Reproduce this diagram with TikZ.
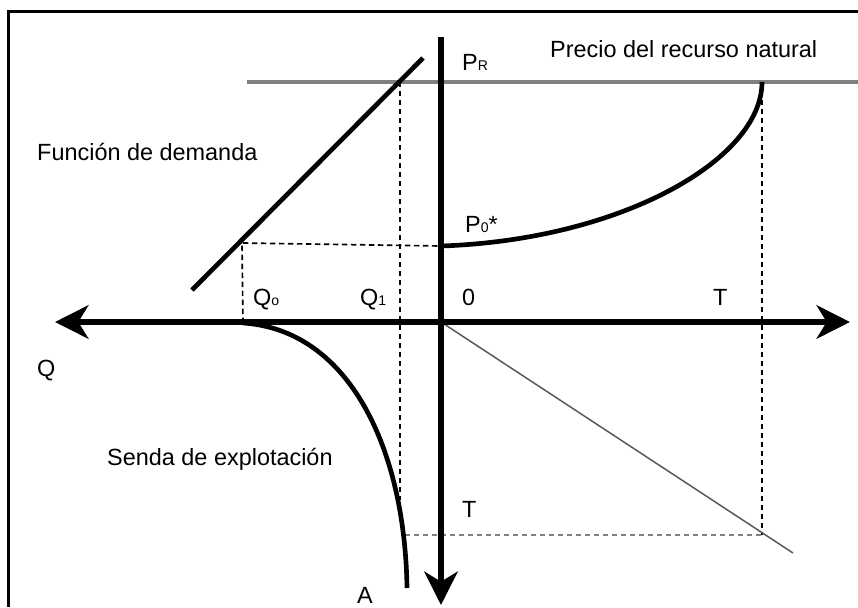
\documentclass[tikz,border=0pt]{standalone}
\usepackage{fontspec}
\setmainfont{Liberation Sans}
\usetikzlibrary{arrows.meta}
\tikzstyle{axis} = [line width=0.17cm, >={Stealth[length=1cm,width=1cm,inset=0.3cm]}]
\tikzstyle{curve} = [line width=0.14cm]
\tikzstyle{guide} = [line width=0.05cm, dash pattern=on 0.16cm off 0.11cm]
\tikzstyle{lbl} = [font=\fontsize{20}{24}\selectfont, inner sep=0pt, anchor=base west]
\newcommand{\idx}[1]{{\fontsize{12}{12}\selectfont #1}}

\begin{document}
\begin{tikzpicture}[x=0.03cm, y=-0.03cm]
        \useasboundingbox (0,0) rectangle (858,607);
        \draw[line width=0.09cm] (8,607) -- (8,11) -- (858,11);

        \coordinate (O) at (441,322);
        \coordinate (qtip) at (55,322);
        \coordinate (ttip) at (850,322);
        \coordinate (ptop) at (441,37);
        \coordinate (tdown) at (441,605);
        \coordinate (pr0) at (247,82);
        \coordinate (pr1) at (858,82);
        \coordinate (d0) at (192,290);
        \coordinate (d1) at (423,58);
        \coordinate (p0) at (441,246);
        \coordinate (pT) at (762,82);
        \coordinate (q0) at (243,323);
        \coordinate (a) at (407,588);
        \coordinate (e) at (793,553);

        \node[lbl] at (550,57) (precio) {Precio del recurso natural};
        \node[lbl] at (37,160) (demanda) {Función de demanda};
        \node[lbl] at (462,70) (PR) {P\idx{R}};
        \node[lbl] at (465,232) (P0) {P\idx{0}*};
        \node[lbl] at (253,305) (Q0) {Q\idx{o}};
        \node[lbl] at (360,305) (Q1) {Q\idx{1}};
        \node[lbl] at (462,305) (cero) {0};
        \node[lbl] at (713,305) (T) {T};
        \node[lbl] at (37,376) (Q) {Q};
        \node[lbl] at (107,465) (senda) {Senda de explotación};
        \node[lbl] at (462,517) (Tb) {T};
        \node[lbl] at (357,603) (A) {A};

        \draw[guide] (q0) -- (242,243) -- (p0);
        \draw[guide] (400,82) -- (400,500);
        \draw[guide] (pT) -- (762,535);
        \draw[guide, gray] (405,535) -- (762,535);
        \draw[line width=0.1cm, gray] (pr0) -- (pr1);
        \draw[line width=0.045cm, gray!70!black] (O) -- (e);

        \draw[curve] (d0) -- (d1);
        \draw[curve] (p0) .. controls (620,240) and (762,160) .. (pT);
        \draw[curve] (q0) .. controls (350,330) and (405,450) .. (a);

        \draw[axis, <->] (qtip) -- (ttip);
        \draw[axis, ->] (ptop) -- (tdown);

    \end{tikzpicture}
\end{document}
